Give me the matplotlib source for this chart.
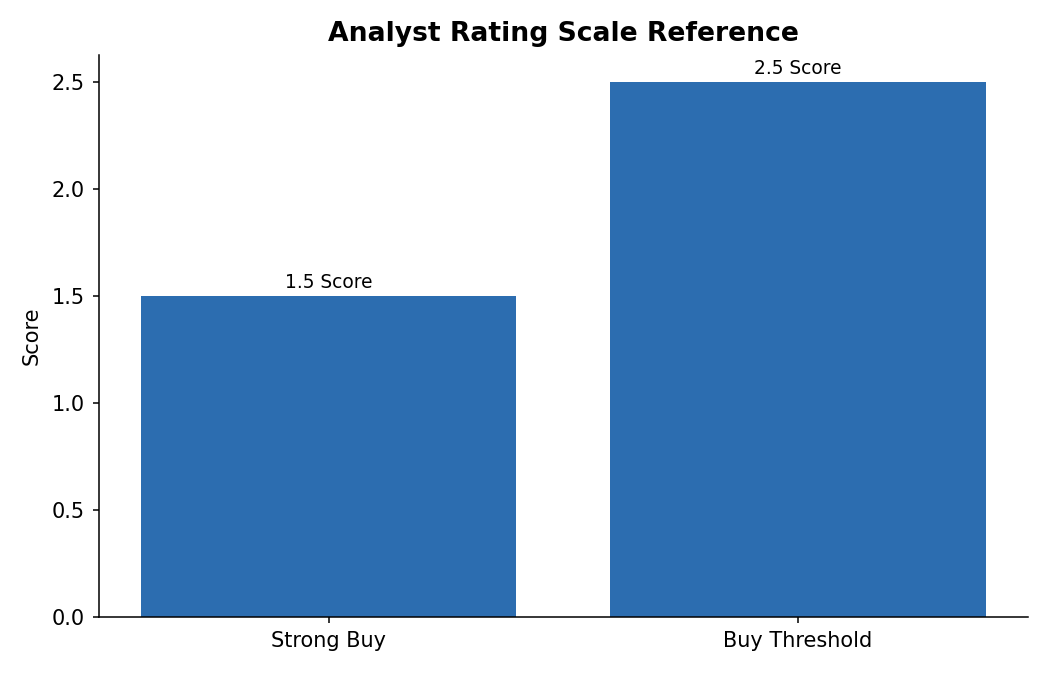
import matplotlib
matplotlib.use("Agg")
import matplotlib.pyplot as plt

# data
categories = ["Strong Buy", "Buy Threshold"]
scores = [1.5, 2.5]
bar_labels = ["1.5 Score", "2.5 Score"]

fig, ax = plt.subplots(figsize=(10.5, 6.75), dpi=100)
bars = ax.bar(categories, scores, width=0.8, color="#2c6db0")

for b, lbl in zip(bars, bar_labels):
    ax.annotate(lbl, (b.get_x() + b.get_width() / 2, b.get_height()),
                xytext=(0, 3), textcoords="offset points",
                ha="center", va="bottom", fontsize=13.4)

ax.set_title("Analyst Rating Scale Reference", fontsize=19.2,
             fontweight="bold", pad=10)
ax.set_ylabel("Score", fontsize=15, labelpad=7)
ax.tick_params(labelsize=15, length=4.5, width=1.1, pad=5.5)
for s in ["left", "bottom"]:
    ax.spines[s].set_linewidth(1.1)
ax.spines["top"].set_visible(False)
ax.spines["right"].set_visible(False)

fig.subplots_adjust(left=0.094, right=0.979, top=0.918, bottom=0.086)
fig.savefig("out.png", dpi=100)
